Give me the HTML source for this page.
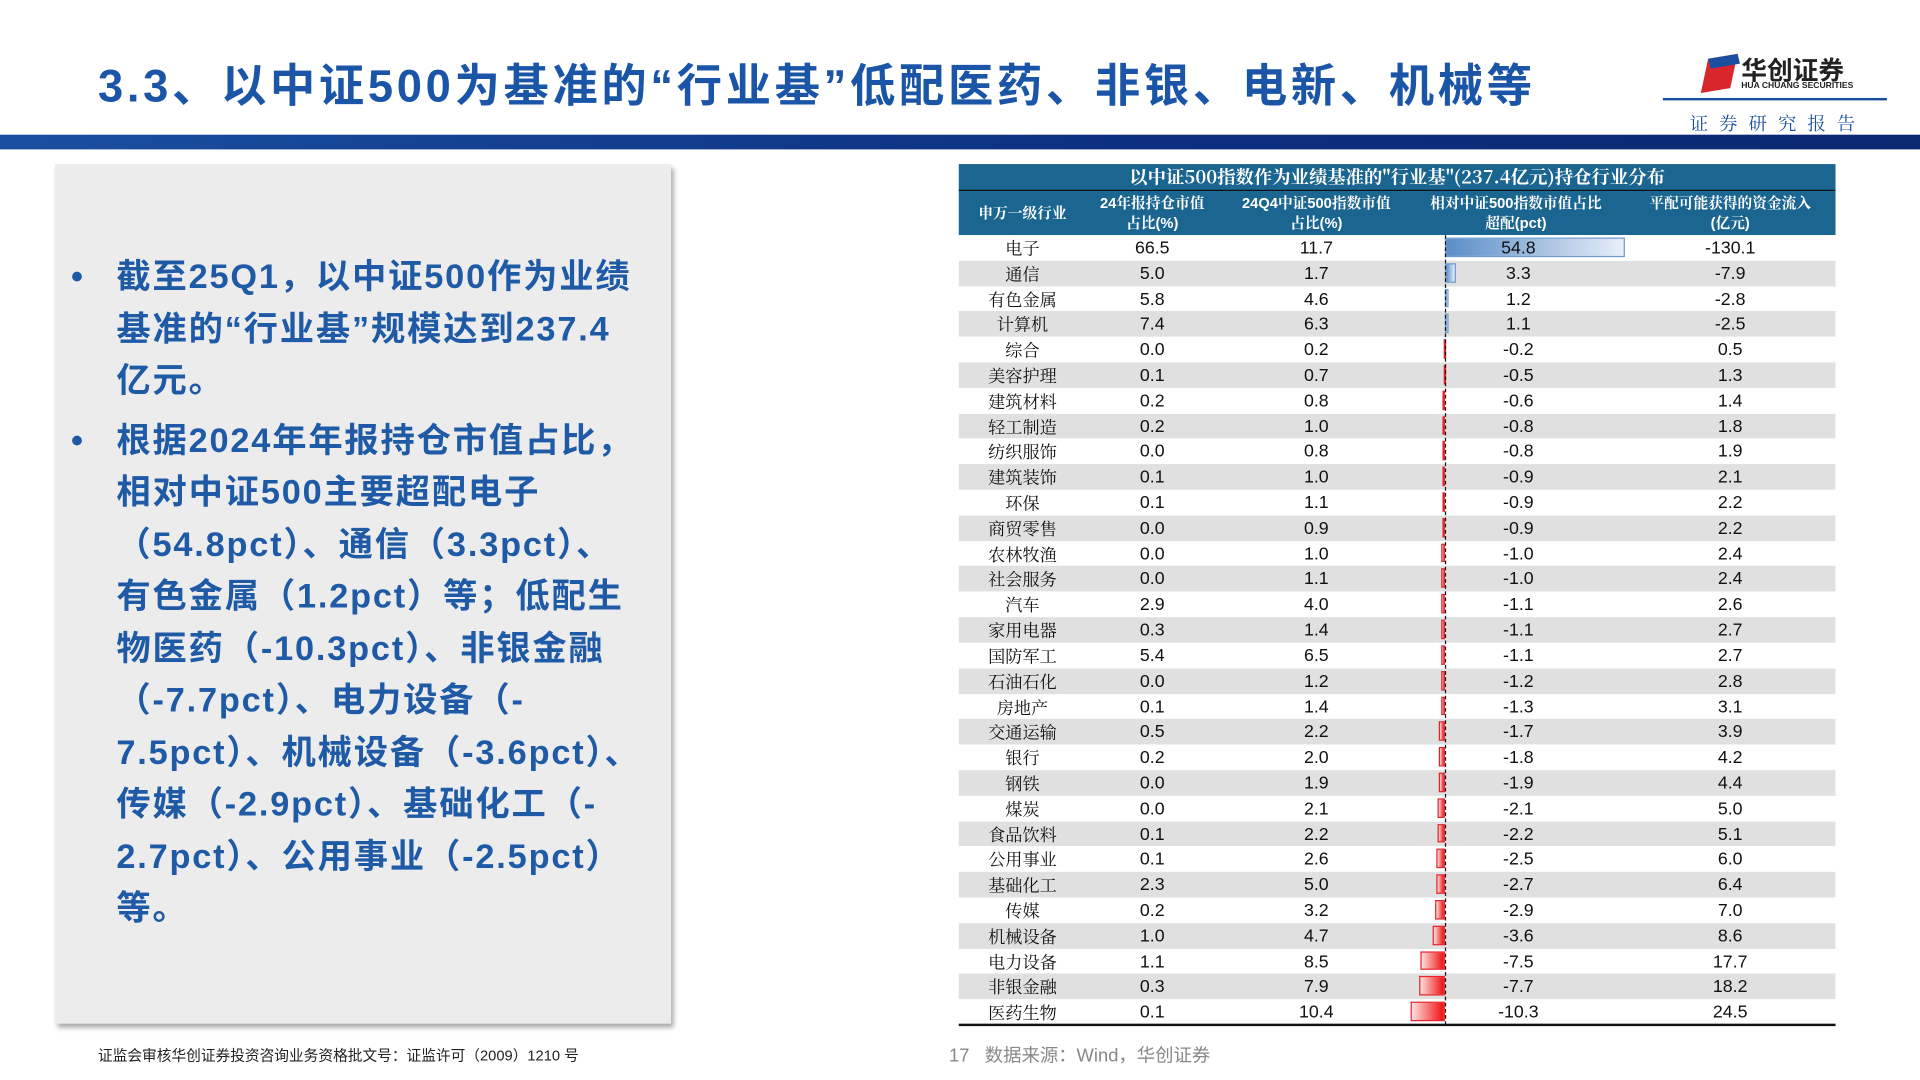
<!DOCTYPE html>
<html><head><meta charset="utf-8">
<style>
html,body{margin:0;padding:0;width:1920px;height:1080px;overflow:hidden;background:#fff}
#wrap{position:absolute;left:0;top:0;width:1568px;height:882px;transform:scale(1.22449);transform-origin:0 0;font-family:"Liberation Sans","Noto Sans CJK SC",sans-serif}
.abs{position:absolute}
#title{left:80px;top:40px;font-size:37px;font-weight:bold;color:#1a55a8;white-space:nowrap;letter-spacing:3px}
#bar{left:0;top:110px;width:1568px;height:12px;background:linear-gradient(90deg,#1a4fa0,#0c2f80 60%,#0a2870)}
#panel{left:45px;top:134px;width:503px;height:702px;background:#ececec;box-shadow:2px 3px 4px rgba(0,0,0,.35)}
#ptext{left:58px;top:205px;width:480px;font-size:28px;font-weight:bold;color:#1f5aa6;line-height:42.5px;white-space:nowrap;letter-spacing:1.5px}
.bul{position:relative;padding-left:37px}
.bul:before{content:"•";position:absolute;left:0;top:0}
#tbl{left:783px;top:134px;width:716px}
.row{position:absolute;left:0;width:716px;height:21px;font-size:14.5px;color:#111}
.row span{position:absolute;top:1px;line-height:21px;transform:translateX(-50%);white-space:nowrap}
.cn{font-family:"Noto Serif CJK SC",serif;font-size:14px}
#thead1{left:0;top:0;width:716px;height:21px;background:#1b6591;color:#fff;text-align:center;font-size:15px;line-height:21px;font-family:"Noto Serif CJK SC",serif;border-bottom:1px solid #111}
#thead2{left:0;top:22px;width:716px;height:36px;background:#1b6591;color:#fff;font-size:12px;font-family:"Liberation Sans","Noto Serif CJK SC",serif}
#thead2 div{position:absolute;text-align:center;line-height:16px;transform:translateX(-50%);white-space:nowrap;font-weight:bold}
</style></head><body>
<div id="wrap">
<div class="abs" id="title">3.3、以中证500为基准的“行业基”低配医药、非银、电新、机械等</div>
<div class="abs" style="left:1358px;top:40px;width:185px;height:70px">
 <svg width="40" height="36" style="position:absolute;left:27px;top:2px"><polygon points="4,34 10,6 34,2 28,30" fill="#d9262c"/><polygon points="10,6 34,2 36,10 12,14" fill="#1a4fa0"/></svg>
 <div class="abs" style="left:64px;top:2px;font-size:21px;font-weight:bold;color:#222;font-family:'Noto Sans CJK SC',sans-serif">华创证券</div>
 <div class="abs" style="left:64px;top:27px;font-size:7px;font-weight:bold;color:#222">HUA CHUANG SECURITIES</div>
 <div class="abs" style="left:0;top:40px;width:183px;height:2px;background:#1a4fa0"></div>
 <div class="abs" style="left:22px;top:50px;font-size:15px;color:#1a4fa0;letter-spacing:9px;font-family:'Noto Serif CJK SC',serif">证券研究报告</div>
</div>
<div class="abs" id="bar"></div>
<div class="abs" id="panel"></div>
<div class="abs" id="ptext">
<div class="bul">截至25Q1，以中证500作为业绩<br>基准的“行业基”规模达到237.4<br>亿元。</div>
<div class="bul" style="margin-top:6px">根据2024年年报持仓市值占比，<br>相对中证500主要超配电子<br>（54.8pct）、通信（3.3pct）、<br>有色金属（1.2pct）等；低配生<br>物医药（-10.3pct）、非银金融<br>（-7.7pct）、电力设备（-<br>7.5pct）、机械设备（-3.6pct）、<br>传媒（-2.9pct）、基础化工（-<br>2.7pct）、公用事业（-2.5pct）<br>等。</div>
</div>
<div class="abs" id="tbl">
 <div class="abs" id="thead1"><b>以中证500指数作为业绩基准的"行业基"(237.4亿元)持仓行业分布</b></div>
 <div class="abs" id="thead2">
  <div style="left:52px;top:10px">申万一级行业</div>
  <div style="left:158px;top:2px">24年报持仓市值<br>占比(%)</div>
  <div style="left:292px;top:2px">24Q4中证500指数市值<br>占比(%)</div>
  <div style="left:455px;top:2px">相对中证500指数市值占比<br>超配(pct)</div>
  <div style="left:630px;top:2px">平配可能获得的资金流入<br>(亿元)</div>
 </div>
 <div class="abs" id="rows" style="left:0;top:58px;width:716px;height:645px"></div>
 <div class="abs" style="left:0;top:702px;width:716px;height:2px;background:#111"></div>
</div>
<div class="abs" style="left:80px;top:853px;font-size:12px;color:#222;font-family:'Liberation Sans','Noto Sans CJK SC',sans-serif">证监会审核华创证券投资咨询业务资格批文号：证监许可（2009）1210 号</div>
<div class="abs" style="left:775px;top:851px;font-size:15px;color:#888">17 &nbsp;&nbsp;数据来源：Wind，华创证券</div>
</div>
<script>
const industries=["电子","通信","有色金属","计算机","综合","美容护理","建筑材料","轻工制造","纺织服饰","建筑装饰","环保","商贸零售","农林牧渔","社会服务","汽车","家用电器","国防军工","石油石化","房地产","交通运输","银行","钢铁","煤炭","食品饮料","公用事业","基础化工","传媒","机械设备","电力设备","非银金融","医药生物"];
const fundShare=[66.5,5.0,5.8,7.4,0.0,0.1,0.2,0.2,0.0,0.1,0.1,0.0,0.0,0.0,2.9,0.3,5.4,0.0,0.1,0.5,0.2,0.0,0.0,0.1,0.1,2.3,0.2,1.0,1.1,0.3,0.1];
const indexShare=[11.7,1.7,4.6,6.3,0.2,0.7,0.8,1.0,0.8,1.0,1.1,0.9,1.0,1.1,4.0,1.4,6.5,1.2,1.4,2.2,2.0,1.9,2.1,2.2,2.6,5.0,3.2,4.7,8.5,7.9,10.4];
const overweight=[54.8,3.3,1.2,1.1,-0.2,-0.5,-0.6,-0.8,-0.8,-0.9,-0.9,-0.9,-1.0,-1.0,-1.1,-1.1,-1.1,-1.2,-1.3,-1.7,-1.8,-1.9,-2.1,-2.2,-2.5,-2.7,-2.9,-3.6,-7.5,-7.7,-10.3];
const inflow=[-130.1,-7.9,-2.8,-2.5,0.5,1.3,1.4,1.8,1.9,2.1,2.2,2.2,2.4,2.4,2.6,2.7,2.7,2.8,3.1,3.9,4.2,4.4,5.0,5.1,6.0,6.4,7.0,8.6,17.7,18.2,24.5];
const rowsEl=document.getElementById('rows');
const rowH=645/31, base=397, k=2.68;
const xs=v=>base+v*k;
for(let i=0;i<industries.length;i++){
  const r=document.createElement('div');
  
  
  r.className='row';
  r.style.top=(i*rowH)+'px';
  r.style.height=rowH+'px';
  r.style.background=i%2?'#e0e0e0':'#fff';
  const v=overweight[i];
  const b=document.createElement('div');
  
  
  const x0=Math.min(xs(0),xs(v)), w=Math.max(Math.abs(xs(v)-xs(0)),1.5);
  b.style.cssText='position:absolute;top:2px;height:'+(rowH-5)+'px;left:'+x0+'px;width:'+w+'px;box-sizing:border-box;'+(v>=0?'border:1px solid #6a9bd0;background:linear-gradient(90deg,#5b8dc8,#e8eff8)':'border:1px solid #e8202a;background:linear-gradient(90deg,#fde0e0,#f01010)');
  r.appendChild(b);
  const cells=[[52,industries[i],'cn'],[158,fundShare[i].toFixed(1)],[292,indexShare[i].toFixed(1)],[457,v.toFixed(1)],[630,inflow[i].toFixed(1)]];
  cells.forEach(c=>{const s=document.createElement('span');
    
    
    s.style.left=c[0]+'px';s.textContent=c[1];if(c[2])s.className=c[2];r.appendChild(s);});
  rowsEl.appendChild(r);
}
const ln=document.createElement('div');


ln.style.cssText='position:absolute;left:'+(base-0.5)+'px;top:0;height:645px;width:0;border-left:1px dashed #111';
rowsEl.appendChild(ln);
</script>
</body></html>
